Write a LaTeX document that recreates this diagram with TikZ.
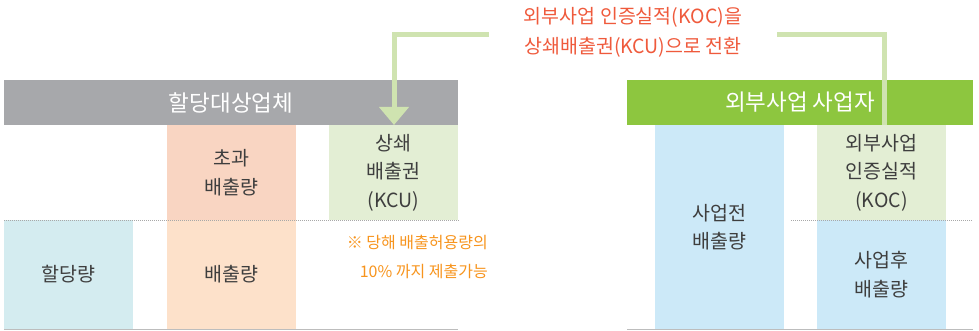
\documentclass[tikz,border=0pt]{standalone}
\usepackage{fontspec}
\setmainfont{Noto Sans CJK KR}
\usetikzlibrary{arrows.meta}
\definecolor{hdrgray}{HTML}{A7A8AB}
\definecolor{hdrgreen}{HTML}{8DC63F}
\definecolor{orup}{HTML}{F9D5C2}
\definecolor{orlow}{HTML}{FDE1CA}
\definecolor{pgreen}{HTML}{E3EED4}
\definecolor{cyanbox}{HTML}{D4ECF0}
\definecolor{bluebox}{HTML}{CCE9F8}
\definecolor{arrowgreen}{HTML}{CFE3B0}
\definecolor{titlered}{HTML}{EF5A3C}
\definecolor{noteorange}{HTML}{F7941D}
\definecolor{txt}{HTML}{3E3E3E}
\definecolor{dotgray}{HTML}{A8A8A8}
\definecolor{basegray}{HTML}{BDBDBD}
\tikzset{
  boxnode/.style={inner sep=0pt, outer sep=0pt, anchor=north west, align=center, text=txt,
    font=\fontsize{19.5}{28.5}\selectfont},
  hdrnode/.style={inner sep=0pt, outer sep=0pt, anchor=north west, align=center, text=white,
    font=\fontsize{22.5}{24}\selectfont},
  dotline/.style={draw=dotgray, line width=1pt, dash pattern=on 1pt off 1pt},
  baseline/.style={draw=basegray, line width=1.5pt},
  conn/.style={draw=arrowgreen, line width=5pt, line cap=butt, line join=miter},
}
\begin{document}
\begin{tikzpicture}[x=1pt,y=-1pt]
\useasboundingbox (0,0) rectangle (979,331);
% left header
\node[hdrnode, fill=hdrgray, minimum width=454pt, minimum height=45pt] (lhdr) at (4,80) {할당대상업체};
% left boxes
\node[boxnode, fill=orup, minimum width=129pt, minimum height=95pt] (exc) at (167,125) {초과\\배출량};
\node[boxnode, fill=orlow, minimum width=129pt, minimum height=109pt] (emi) at (167,220) {배출량};
\node[boxnode, fill=pgreen, minimum width=129pt, minimum height=95pt] (kcu) at (329,125) {상쇄\\배출권\\(KCU)};
\node[boxnode, fill=cyanbox, minimum width=129pt, minimum height=109pt] (alloc) at (4,220) {할당량};
\node[inner sep=0pt, anchor=east, align=right, text=noteorange, font=\fontsize{16}{28.5}\selectfont] (note) at (488,257) {※ 당해 배출허용량의\\10\% 까지 제출가능};
\draw[dotline] (4,220.5) -- (460,220.5);
\draw[baseline] (4,329.5) -- (458,329.5);
% right header
\node[hdrnode, fill=hdrgreen, minimum width=346pt, minimum height=45pt] (rhdr) at (627,80) {외부사업 사업자};
\node[boxnode, fill=bluebox, minimum width=129pt, minimum height=204pt] (pre) at (655,125) {사업전\\배출량};
\node[boxnode, fill=pgreen, minimum width=129pt, minimum height=95pt] (koc) at (817,125) {외부사업\\인증실적\\(KOC)};
\node[boxnode, fill=bluebox, minimum width=129pt, minimum height=109pt] (post) at (817,220) {사업후\\배출량};
\draw[dotline] (791,220.5) -- (973,220.5);
\draw[baseline] (627,329.5) -- (973,329.5);
% title
\node[inner sep=0pt, align=center, text=titlered, font=\fontsize{19.5}{30}\selectfont] (title) at (633,32) {외부사업 인증실적(KOC)을\\상쇄배출권(KCU)으로 전환};
% connectors
\coordinate (lstart) at (489,35);
\coordinate (rstart) at (777,35);
\draw[conn, -{Triangle[width=29pt,length=18pt]}] (lstart) -| (kcu.north -| 394,0);
\draw[conn] (rstart) -| (koc.north -| 884,0);
\end{tikzpicture}
\end{document}
